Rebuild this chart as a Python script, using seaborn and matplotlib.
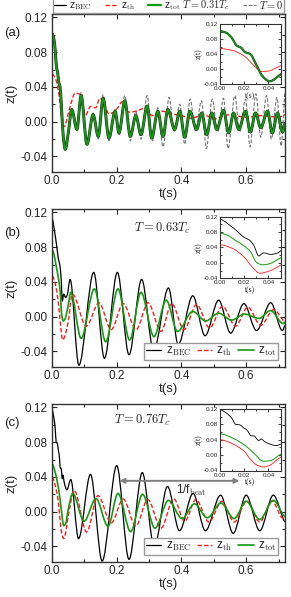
import matplotlib
matplotlib.use("Agg")
import matplotlib.pyplot as plt
import numpy as np
from matplotlib.lines import Line2D
from matplotlib.path import Path
from matplotlib.patches import PathPatch
from matplotlib.ticker import MultipleLocator, FormatStrFormatter
import seaborn as sns

# ---------------- values (t in s) ----------------
# panel (a), T = 0.31 Tc : z_BEC lies on top of z_tot
t_tot_a = [0, 0.005, 0.01, 0.014, 0.017, 0.021, 0.025, 0.03, 0.035, 0.041, 0.05,
           0.061, 0.077, 0.090, 0.108, 0.127, 0.143, 0.158, 0.176, 0.195, 0.207,
           0.225, 0.242, 0.259, 0.275, 0.294, 0.308, 0.327, 0.343, 0.358, 0.379,
           0.395, 0.41, 0.426, 0.447, 0.4625, 0.478, 0.494, 0.509, 0.53, 0.546,
           0.561, 0.577, 0.598, 0.613, 0.629, 0.645, 0.666, 0.681, 0.697, 0.7125, 0.72]
z_tot_a = [0.101, 0.097, 0.082, 0.062, 0.058, 0.045, 0.040, 0.012, -0.018, -0.032, -0.014,
           0.014, -0.009, 0.030, -0.026, 0.008, -0.017, 0.027, -0.019, 0.012, -0.013,
           0.024, -0.017, 0.007, -0.015, 0.018, -0.019, 0.012, -0.017, 0.014, -0.009,
           0.012, -0.018, 0.012, -0.009, 0.010, -0.015, 0.010, -0.009, 0.013, -0.013,
           0.010, -0.009, 0.012, -0.012, 0.010, -0.007, 0.012, -0.013, 0.010, -0.012, -0.002]
t_bec_a = t_tot_a
z_bec_a = z_tot_a

t_th_a = [0, 0.01, 0.02, 0.028, 0.034, 0.04, 0.046, 0.055, 0.072, 0.088, 0.103, 0.119,
          0.135, 0.148, 0.162, 0.176, 0.195, 0.218, 0.237, 0.259, 0.283, 0.31, 0.34,
          0.37, 0.4, 0.43, 0.47, 0.5, 0.55, 0.6, 0.65, 0.7, 0.72]
z_th_a = [0.055, 0.05, 0.035, 0.01, -0.006, -0.005, 0.003, 0.016, 0.033, 0.031, 0.007, 0.0175,
          0.016, 0.027, 0.02, 0.009, 0.012, 0.023, 0.011, 0.012, 0.015, 0.007, 0.012,
          0.009, 0.007, 0.004, 0.008, 0.003, 0.008, 0.005, 0.007, 0.005, 0.008]

# T = 0 reference curve
t_zero_a = [0, 0.01, 0.021, 0.03, 0.041, 0.061, 0.077, 0.090, 0.108, 0.127, 0.143, 0.158,
            0.176, 0.195, 0.208, 0.225, 0.242, 0.259, 0.275, 0.294, 0.31, 0.327, 0.343,
            0.362, 0.377, 0.395, 0.41, 0.427, 0.443, 0.462, 0.477, 0.495, 0.512, 0.53,
            0.544, 0.565, 0.58, 0.598, 0.612, 0.63, 0.645, 0.663, 0.678, 0.695, 0.708, 0.72]
z_zero_a = [0.104, 0.082, 0.045, 0.012, -0.032, 0.013, -0.009, 0.034, -0.028, 0.010, -0.020, 0.031,
            -0.022, 0.014, -0.015, 0.030, -0.022, 0.012, -0.020, 0.030, -0.022, 0.016, -0.029,
            0.028, -0.012, 0.020, -0.026, 0.026, -0.010, 0.024, -0.031, 0.026, -0.012, 0.027,
            -0.031, 0.030, -0.012, 0.026, -0.029, 0.032, -0.018, 0.030, -0.020, 0.028, -0.028, 0.034]

# panel (b), T = 0.63 Tc
t_bec_b = [0, 0.008, 0.015, 0.02, 0.024, 0.028, 0.032, 0.036, 0.042, 0.047, 0.056, 0.083,
           0.129, 0.162, 0.202, 0.238, 0.277, 0.314, 0.36, 0.39, 0.435, 0.473, 0.515,
           0.552, 0.593, 0.632, 0.676, 0.712, 0.72]
z_bec_b = [0.113, 0.098, 0.08, 0.066, 0.06, 0.045, 0.018, 0.026, 0.022, 0.025, 0.043, -0.056,
           0.051, -0.048, 0.051, -0.044, 0.043, -0.039, 0.033, -0.032, 0.024, -0.022, 0.019,
           -0.019, 0.015, -0.016, 0.016, -0.016, -0.01]
t_th_b = [0, 0.01, 0.02, 0.027, 0.033, 0.04, 0.05, 0.063, 0.106, 0.145, 0.183, 0.22, 0.26,
          0.297, 0.337, 0.37, 0.408, 0.447, 0.487, 0.527, 0.567, 0.605, 0.645, 0.685, 0.72]
z_th_b = [0.047, 0.038, 0.015, -0.012, -0.027, -0.022, -0.006, 0.026, -0.011, 0.016, -0.015,
          0.015, -0.015, 0.016, -0.017, 0.015, -0.015, 0.014, -0.013, 0.012, -0.011, 0.011,
          -0.010, 0.008, -0.006]
t_tot_b = [0, 0.006, 0.012, 0.02, 0.025, 0.03, 0.035, 0.04, 0.05, 0.058, 0.09, 0.131, 0.166,
           0.204, 0.24, 0.275, 0.315, 0.353, 0.388, 0.435, 0.475, 0.515, 0.555, 0.595,
           0.64, 0.675, 0.715, 0.72]
z_tot_b = [0.077, 0.072, 0.06, 0.044, 0.03, 0.002, -0.005, -0.003, 0.013, 0.028, -0.025,
           0.032, -0.029, 0.032, -0.027, 0.028, -0.023, 0.019, -0.017, 0.006, -0.005, 0.004,
           -0.004, 0.003, -0.002, 0.007, -0.008, -0.006]

# panel (c), T = 0.76 Tc
t_bec_c = [0, 0.005, 0.01, 0.013, 0.016, 0.02, 0.022, 0.026, 0.028, 0.032, 0.034, 0.037,
           0.042, 0.046, 0.058, 0.082, 0.119, 0.155, 0.2, 0.238, 0.279, 0.316, 0.357,
           0.394, 0.436, 0.474, 0.521, 0.56, 0.6, 0.642, 0.684, 0.72]
z_bec_c = [0.118, 0.11, 0.095, 0.08, 0.079, 0.07, 0.066, 0.05, 0.05, 0.038, 0.042, 0.035,
           0.028, 0.025, 0.037, -0.031, 0.043, -0.057, 0.053, -0.055, 0.045, -0.041, 0.029,
           -0.022, 0.021, -0.022, 0.019, -0.025, 0.019, -0.022, 0.019, -0.012]
t_th_c = [0, 0.01, 0.02, 0.025, 0.03, 0.036, 0.042, 0.048, 0.069, 0.107, 0.142, 0.183, 0.22,
          0.259, 0.296, 0.337, 0.376, 0.41, 0.445, 0.485, 0.525, 0.563, 0.602, 0.642,
          0.68, 0.715, 0.72]
z_th_c = [0.04, 0.03, 0.01, -0.01, -0.025, -0.031, -0.025, -0.01, 0.024, -0.0235, 0.0185,
          -0.013, 0.0145, -0.0165, 0.014, -0.019, 0.015, -0.011, 0.014, -0.012, 0.012,
          -0.012, 0.012, -0.012, 0.012, -0.008, -0.007]
t_tot_c = [0, 0.012, 0.022, 0.028, 0.036, 0.042, 0.05, 0.064, 0.099, 0.136, 0.173, 0.204,
           0.243, 0.28, 0.318, 0.36, 0.402, 0.44, 0.48, 0.522, 0.563, 0.6, 0.642, 0.684, 0.72]
z_tot_c = [0.055, 0.042, 0.022, 0.005, -0.016, -0.014, 0.002, 0.021, -0.011, 0.015, -0.017,
           0.021, -0.023, 0.02, -0.019, 0.013, -0.008, 0.009, -0.007, 0.01, -0.008, 0.012,
           -0.009, 0.013, -0.006]

# beat period arrow in (c)
beat_start, beat_end, beat_level = 0.2, 0.588, 0.0355

# ---------------- style ----------------
sns.set_style("ticks")
plt.rcParams['font.family'] = ['Liberation Sans', 'DejaVu Sans']
plt.rcParams['mathtext.fontset'] = 'cm'
plt.rcParams['axes.unicode_minus'] = False

BLACK = 'black'
RED = '#ff1a1a'
GREEN = '#129a12'
GREY = '0.45'
DASH = (0, (3.2, 1.6))

W, H = 291, 597
fig = plt.figure(figsize=(W / 100, H / 100), dpi=100)


def box(x0, y0, x1, y1):
    return [x0 / W, 1 - y1 / H, (x1 - x0) / W, (y1 - y0) / H]


def slopes(t, z):
    # monotone (pchip-like) tangents, flat at turning points and at release
    t = np.asarray(t, float)
    z = np.asarray(z, float)
    h = np.diff(t)
    d = np.diff(z) / h
    m = np.zeros(len(t))
    for k in range(1, len(t) - 1):
        if d[k - 1] * d[k] > 0:
            w1 = 2 * h[k] + h[k - 1]
            w2 = h[k] + 2 * h[k - 1]
            m[k] = (w1 + w2) / (w1 / d[k - 1] + w2 / d[k])
    m[-1] = 0.5 * d[-1]
    return t, z, h, m


def draw(ax, t, z, color, lw, linestyle='-', zorder=2):
    # the curve passes through the read points; cubic bezier segments between them
    t, z, h, m = slopes(t, z)
    verts = [(t[0], z[0])]
    codes = [Path.MOVETO]
    for k in range(len(h)):
        verts += [(t[k] + h[k] / 3, z[k] + m[k] * h[k] / 3),
                  (t[k + 1] - h[k] / 3, z[k + 1] - m[k + 1] * h[k] / 3),
                  (t[k + 1], z[k + 1])]
        codes += [Path.CURVE4] * 3
    ax.add_patch(PathPatch(Path(verts, codes), fill=False, edgecolor=color, lw=lw,
                           linestyle=linestyle, zorder=zorder, capstyle='butt',
                           joinstyle='round'))


def style_main(ax):
    ax.set_xlim(0, 0.72)
    ax.set_ylim(-0.058, 0.124)
    ax.xaxis.set_major_locator(MultipleLocator(0.2))
    ax.xaxis.set_minor_locator(MultipleLocator(0.1))
    ax.yaxis.set_major_locator(MultipleLocator(0.04))
    ax.yaxis.set_minor_locator(MultipleLocator(0.02))
    ax.xaxis.set_major_formatter(FormatStrFormatter('%.1f'))
    ax.yaxis.set_major_formatter(FormatStrFormatter('%.2f'))
    ax.tick_params(which='both', direction='in', top=True, right=True, labelsize=8.5, width=0.8)
    ax.tick_params(which='major', length=3.5)
    ax.tick_params(which='minor', length=2)
    ax.tick_params(axis='x', pad=2.5)
    ax.tick_params(axis='y', pad=3)
    for s in ax.spines.values():
        s.set_linewidth(1.0)
        s.set_color('0.2')
    ax.set_xlabel('t(s)', fontsize=9.5, labelpad=0.5)
    ax.set_ylabel('z(t)', fontsize=9.5)
    ax.yaxis.set_label_coords(-0.15, 0.5)


def style_inset(ax):
    ax.set_xlim(0, 0.05)
    ax.set_ylim(-0.04, 0.12)
    ax.xaxis.set_major_locator(MultipleLocator(0.02))
    ax.xaxis.set_minor_locator(MultipleLocator(0.01))
    ax.yaxis.set_major_locator(MultipleLocator(0.04))
    ax.yaxis.set_minor_locator(MultipleLocator(0.02))
    ax.xaxis.set_major_formatter(FormatStrFormatter('%.2f'))
    ax.yaxis.set_major_formatter(FormatStrFormatter('%.2f'))
    ax.tick_params(which='both', direction='in', top=True, right=True, labelsize=4.5,
                   width=0.6, pad=1.5)
    ax.tick_params(which='major', length=2)
    ax.tick_params(which='minor', length=1.2)
    for s in ax.spines.values():
        s.set_linewidth(0.8)
        s.set_color('0.2')
    ax.set_xlabel('t(s)', fontsize=5.5, family='Liberation Serif', labelpad=0.5)
    ax.set_ylabel('z(t)', fontsize=5.5, family='Liberation Serif', labelpad=0.3)
    ax.set_facecolor('white')


def legend_handles(with_zero=False):
    hs = [Line2D([], [], color=BLACK, lw=0.9),
          Line2D([], [], color=RED, lw=1.0, linestyle=DASH),
          Line2D([], [], color=GREEN, lw=1.6 if with_zero else 1.2)]
    if with_zero:
        hs.append(Line2D([], [], color=GREY, lw=0.8, linestyle=DASH))
    return hs


# ---------------- panel (a) ----------------
ax_a = fig.add_axes(box(52, 14, 285, 172))
draw(ax_a, t_zero_a, z_zero_a, GREY, 0.8, DASH)
draw(ax_a, t_th_a, z_th_a, RED, 1.0, DASH)
draw(ax_a, t_bec_a, z_bec_a, '0.15', 2.1)
draw(ax_a, t_tot_a, z_tot_a, GREEN, 1.4)
style_main(ax_a)
ax_a.legend(legend_handles(True),
            ['z$_{\\rm BEC}$', 'z$_{\\rm th}$', 'z$_{\\rm tot}$ $T=0.31T_c$', '$T=0$'],
            loc='lower left', bbox_to_anchor=(0, 1.0, 1, 0), mode='expand', ncol=4,
            fontsize=7.5, handlelength=1.2, handletextpad=0.3, columnspacing=0.4,
            borderpad=0.1, borderaxespad=0.05, fancybox=False, edgecolor='0.6',
            framealpha=1)

in_a = fig.add_axes(box(220, 24, 280.5, 84.3))
draw(in_a, t_th_a, z_th_a, RED, 0.6)
draw(in_a, t_bec_a, z_bec_a, '0.2', 1.6)
draw(in_a, t_tot_a, z_tot_a, GREEN, 1.0)
style_inset(in_a)

# ---------------- panel (b) ----------------
ax_b = fig.add_axes(box(52, 209, 285, 367))
draw(ax_b, t_bec_b, z_bec_b, BLACK, 0.9)
draw(ax_b, t_th_b, z_th_b, RED, 1.0, DASH)
draw(ax_b, t_tot_b, z_tot_b, GREEN, 1.2)
style_main(ax_b)
ax_b.text(0.34, 0.102, '$T=0.63T_c$', fontsize=9, ha='center', va='center')
ax_b.legend(legend_handles(), ['z$_{\\rm BEC}$', 'z$_{\\rm th}$', 'z$_{\\rm tot}$'],
            loc='lower right', bbox_to_anchor=(0.995, 0.01), ncol=3, fontsize=8.5,
            handlelength=1.3, handletextpad=0.35, columnspacing=0.5, borderpad=0.15,
            fancybox=False, edgecolor='0.6', framealpha=1)

in_b = fig.add_axes(box(220, 216.7, 280.5, 278.3))
draw(in_b, t_bec_b, z_bec_b, BLACK, 0.6)
draw(in_b, t_th_b, z_th_b, RED, 0.6)
draw(in_b, t_tot_b, z_tot_b, GREEN, 0.7)
style_inset(in_b)

# ---------------- panel (c) ----------------
ax_c = fig.add_axes(box(52, 404, 285, 562))
draw(ax_c, t_bec_c, z_bec_c, BLACK, 0.9)
draw(ax_c, t_th_c, z_th_c, RED, 1.0, DASH)
draw(ax_c, t_tot_c, z_tot_c, GREEN, 1.2)
style_main(ax_c)
ax_c.text(0.28, 0.105, '$T=0.76T_c$', fontsize=9, ha='center', va='center')
ax_c.annotate('', xy=(beat_end, beat_level), xytext=(beat_start, beat_level),
              arrowprops=dict(arrowstyle='<|-|>', color='0.5', lw=1.4, mutation_scale=7))
ax_c.text(0.43, 0.024, '1/f$_{\\rm beat}$', fontsize=8.5, ha='center', va='center')
ax_c.legend(legend_handles(), ['z$_{\\rm BEC}$', 'z$_{\\rm th}$', 'z$_{\\rm tot}$'],
            loc='lower right', bbox_to_anchor=(0.995, 0.01), ncol=3, fontsize=8.5,
            handlelength=1.3, handletextpad=0.35, columnspacing=0.5, borderpad=0.15,
            fancybox=False, edgecolor='0.6', framealpha=1)

in_c = fig.add_axes(box(220, 409, 280.5, 470.5))
draw(in_c, t_bec_c, z_bec_c, BLACK, 0.6)
draw(in_c, t_th_c, z_th_c, RED, 0.6)
draw(in_c, t_tot_c, z_tot_c, GREEN, 0.7)
style_inset(in_c)

# panel letters
for label, y in [('(a)', 33), ('(b)', 233), ('(c)', 423)]:
    fig.text(4 / W, 1 - y / H, label, fontsize=9.5, ha='left', va='center')

fig.savefig('out.png', dpi=100)
